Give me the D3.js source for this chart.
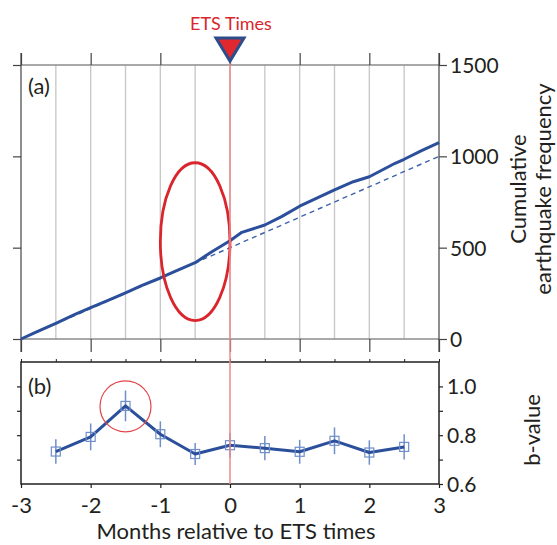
<!DOCTYPE html>
<html>
<head>
<meta charset="utf-8">
<script src="https://cdn.jsdelivr.net/npm/d3@7"></script>
<style>
  html, body { margin: 0; padding: 0; background: #fff; }
  svg text { font-family: Lato, "Noto Sans", sans-serif; fill: #231f20; }
</style>
</head>
<body>
<svg id="chart" width="557" height="545"></svg>
<script>
// Cumulative earthquake count around ETS times (months, count)
const cumMonths = [-3, -2.8, -2.5, -2.225, -2, -1.75, -1.5, -1.27, -1, -0.79, -0.5, -0.26, 0, 0.17, 0.5, 0.74, 1, 1.5, 1.77, 2, 2.37, 2.5, 2.75, 3];
const cumCounts = [0, 35, 86, 135, 172, 212, 252, 292, 334, 370, 418, 478, 538, 584, 624, 670, 727, 816, 861, 888, 962, 984, 1031, 1075];
// Reference trend (straight line)
const trendMonths = [-3, 3];
const trendCounts = [0, 1000];

// b-value in half-month bins
const bMonths = [-2.5, -2, -1.5, -1, -0.5, 0, 0.5, 1, 1.5, 2, 2.5];
const bValues = [0.733, 0.793, 0.92, 0.804, 0.723, 0.759, 0.747, 0.732, 0.777, 0.729, 0.752];
const bErrors = [0.05, 0.055, 0.063, 0.053, 0.045, 0.05, 0.05, 0.049, 0.055, 0.05, 0.052];

const monthTicks = [-3, -2, -1, 0, 1, 2, 3];
const countTicks = [0, 500, 1000, 1500];
const bTicks = [0.6, 0.8, 1.0];
const bMinorTicks = [0.6, 0.7, 0.8, 0.9, 1.0];

const svg = d3.select("#chart");
const x = d3.scaleLinear().domain([-3, 3]).range([21, 439]);
const ya = d3.scaleLinear().domain([0, 1500]).range([339, 65]);
const yb = d3.scaleLinear().domain([0.6, 1.1]).range([484, 362]);

const blue = "#2b4f9b";
const lightBlue = "#6f8fcb";
const red = "#d9262c";
const dark = "#231f20";

// ---------- Panel (a) ----------
const ga = svg.append("g");
// vertical half-month grid
ga.selectAll("line.grid").data(d3.range(-2.5, 3, 0.5)).join("line")
  .attr("x1", d => x(d)).attr("x2", d => x(d))
  .attr("y1", ya(1500)).attr("y2", ya(0))
  .attr("stroke", "#c9c9c9").attr("stroke-width", 1.4);
// top and bottom horizontal lines
ga.selectAll("line.hz").data([0, 1500]).join("line")
  .attr("x1", x(-3)).attr("x2", x(3))
  .attr("y1", d => ya(d)).attr("y2", d => ya(d))
  .attr("stroke", "#8c8c8c").attr("stroke-width", 1.4);

// month ticks above and below
const topAxis = d3.axisTop(x).tickValues(monthTicks).tickSize(12).tickFormat("");
const botAxis = d3.axisBottom(x).tickValues(monthTicks).tickSize(13).tickFormat("");
ga.append("g").attr("transform", `translate(0,${ya(1500)})`).call(topAxis)
  .call(g => g.select(".domain").remove())
  .call(g => g.selectAll(".tick line").attr("stroke", "#444").attr("stroke-width", 1.2));
ga.append("g").attr("transform", `translate(0,${ya(0)})`).call(botAxis)
  .call(g => g.select(".domain").remove())
  .call(g => g.selectAll(".tick line").attr("stroke", "#444").attr("stroke-width", 1.2));

// left and right count axes
const aLeft = d3.axisLeft(ya).tickValues(countTicks).tickSize(8).tickSizeOuter(0).tickFormat("");
const aRight = d3.axisRight(ya).tickValues(countTicks).tickSize(8).tickSizeOuter(0).tickFormat(d3.format("d"));
ga.append("g").attr("transform", `translate(${x(-3)},0)`).call(aLeft)
  .call(g => g.select(".domain").attr("d", `M0,${ya(1500) - 12}V${ya(0) + 13}`).attr("stroke", "#444").attr("stroke-width", 1.2))
  .call(g => g.selectAll(".tick line").attr("stroke", "#444").attr("stroke-width", 1.2));
ga.append("g").attr("transform", `translate(${x(3)},0)`).call(aRight)
  .call(g => g.select(".domain").attr("d", `M0,${ya(1500) - 12}V${ya(0) + 13}`).attr("stroke", "#444").attr("stroke-width", 1.2))
  .call(g => g.selectAll(".tick line").attr("stroke", "#444").attr("stroke-width", 1.2))
  .call(g => g.selectAll(".tick text").attr("x", 11).attr("dy", "0.36em")
    .style("font-size", "21px").attr("fill", dark));

// trend line (dashed)
const trendLine = d3.line().x((d, i) => x(trendMonths[i])).y(d => ya(d));
ga.append("path").datum(trendCounts).attr("d", trendLine)
  .attr("fill", "none").attr("stroke", "#3d63ad").attr("stroke-width", 1.4)
  .attr("stroke-dasharray", "5,4");

// cumulative count curve
const cumLine = d3.line().x((d, i) => x(cumMonths[i])).y(d => ya(d));
ga.append("path").datum(cumCounts).attr("d", cumLine)
  .attr("fill", "none").attr("stroke", blue).attr("stroke-width", 3)
  .attr("stroke-linejoin", "round");

// highlight ellipse
ga.append("ellipse")
  .attr("cx", x(-0.5)).attr("cy", ya(533))
  .attr("rx", x(0) - x(-0.5)).attr("ry", ya(0) - ya(432))
  .attr("fill", "none").attr("stroke", red).attr("stroke-width", 2.8);

ga.append("text").attr("x", 28).attr("y", 94).text("(a)").style("font-size", "22px");

// right axis title
const ta = svg.append("text").attr("transform", `translate(527,189) rotate(-90)`)
  .attr("text-anchor", "middle").style("font-size", "22px");
ta.append("tspan").attr("x", 0).attr("dy", "-0.05em").text("Cumulative");
ta.append("tspan").attr("x", 0).attr("dy", "1.12em").text("earthquake frequency");

// ---------- Panel (b) ----------
const gb = svg.append("g");
gb.append("rect").attr("x", x(-3)).attr("y", yb(1.1))
  .attr("width", x(3) - x(-3)).attr("height", yb(0.6) - yb(1.1))
  .attr("fill", "none").attr("stroke", dark).attr("stroke-width", 1.5);

// top half-month ticks, bottom month ticks
gb.append("g").attr("transform", `translate(0,${yb(1.1)})`)
  .call(d3.axisTop(x).tickValues(d3.range(-3, 3.01, 0.5)).tickSize(3).tickFormat(""))
  .call(g => g.select(".domain").remove())
  .call(g => g.selectAll(".tick line").attr("stroke", dark));
gb.append("g").attr("transform", `translate(0,${yb(0.6)})`)
  .call(d3.axisBottom(x).tickValues(monthTicks).tickSize(4).tickFormat(d3.format("d")))
  .call(g => g.select(".domain").remove())
  .call(g => g.selectAll(".tick line").attr("stroke", dark).attr("stroke-width", 1.2))
  .call(g => g.selectAll(".tick text").attr("y", 29).attr("dy", 0)
    .style("font-size", "22px").attr("fill", dark).text(d => d < 0 ? "-" + Math.abs(d) : d));

gb.append("g").attr("transform", `translate(${x(-3)},0)`)
  .call(d3.axisLeft(yb).tickValues(bMinorTicks.filter(d => d > 0.6)).tickSize(4).tickFormat(""))
  .call(g => g.select(".domain").remove())
  .call(g => g.selectAll(".tick line").attr("stroke", dark).attr("stroke-width", 1.2));
gb.append("g").attr("transform", `translate(${x(3)},0)`)
  .call(d3.axisRight(yb).tickValues(bMinorTicks).tickSize(4).tickFormat(""))
  .call(g => g.select(".domain").remove())
  .call(g => g.selectAll(".tick line").attr("stroke", dark).attr("stroke-width", 1.2));
gb.append("g").attr("transform", `translate(${x(3)},0)`)
  .call(d3.axisRight(yb).tickValues(bTicks).tickSize(0).tickFormat(d3.format(".1f")))
  .call(g => g.select(".domain").remove())
  .call(g => g.selectAll(".tick text").attr("x", 8).attr("dy", "0.36em")
    .style("font-size", "21px").attr("fill", dark));

// ETS time marker line across both panels
svg.append("line").attr("x1", x(0)).attr("x2", x(0))
  .attr("y1", 60).attr("y2", yb(0.6))
  .attr("stroke", "#ec8a8c").attr("stroke-width", 1.5);

// error bars
gb.selectAll("line.err").data(bValues).join("line")
  .attr("x1", (d, i) => x(bMonths[i])).attr("x2", (d, i) => x(bMonths[i]))
  .attr("y1", (d, i) => yb(d - bErrors[i])).attr("y2", (d, i) => yb(d + bErrors[i]))
  .attr("stroke", lightBlue).attr("stroke-width", 1.5);

// b-value line
const bLine = d3.line().x((d, i) => x(bMonths[i])).y(d => yb(d));
gb.append("path").datum(bValues).attr("d", bLine)
  .attr("fill", "none").attr("stroke", blue).attr("stroke-width", 3)
  .attr("stroke-linejoin", "round");

// square markers
gb.selectAll("rect.mk").data(bValues).join("rect")
  .attr("x", (d, i) => x(bMonths[i]) - 4.5).attr("y", d => yb(d) - 4.5)
  .attr("width", 9).attr("height", 9)
  .attr("fill", "none").attr("stroke", lightBlue).attr("stroke-width", 1.2);

// highlight circle around the peak
gb.append("circle").attr("cx", x(-1.5)).attr("cy", yb(0.918)).attr("r", 25.5)
  .attr("fill", "none").attr("stroke", "#e0474c").attr("stroke-width", 1.2);

gb.append("text").attr("x", 28).attr("y", 394).text("(b)").style("font-size", "22px");

svg.append("text").attr("transform", `translate(540,430) rotate(-90)`)
  .attr("text-anchor", "middle").style("font-size", "22px").text("b-value");

svg.append("text").attr("x", 236).attr("y", 539).attr("text-anchor", "middle")
  .style("font-size", "22px").text("Months relative to ETS times");

// ETS marker
svg.append("text").attr("x", x(0) + 1).attr("y", 30).attr("text-anchor", "middle")
  .style("font-size", "18px").style("fill", red).text("ETS Times");
const tri = [[-14, 38], [14, 38], [0, 61]].map(p => [x(0) + p[0], p[1]]);
svg.append("path").attr("d", "M" + tri.join("L") + "Z")
  .attr("fill", "#e0282e").attr("stroke", "#2b4d8c").attr("stroke-width", 3)
  .attr("stroke-linejoin", "miter");
</script>
</body>
</html>
